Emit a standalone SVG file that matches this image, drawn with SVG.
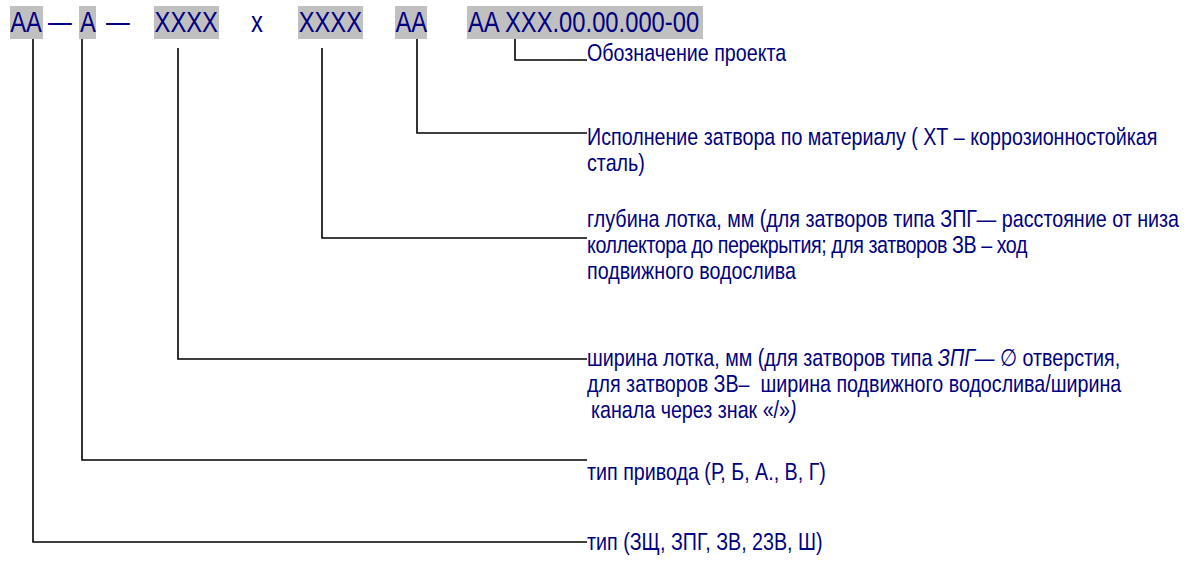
<svg xmlns="http://www.w3.org/2000/svg" width="1195" height="567" viewBox="0 0 1195 567">
<style>
.bg{fill:#c0c0c0}
.code{font-family:"Liberation Sans",Arial,sans-serif;font-size:29px;fill:#000080}
.desc{font-family:"Liberation Sans",Arial,"DejaVu Sans",sans-serif;font-size:24px;fill:#000080}
.it{font-style:italic}
.conn{fill:none;stroke:#000;stroke-width:1.6}
</style>
<rect width="1195" height="567" fill="#fff"/>
<g id="code-type">
<rect class="bg" x="10" y="6" width="33" height="33"/>
<text class="code" transform="scale(0.82 1)" x="12.4" y="32">AA</text>
</g>
<g id="sep1"><text class="code" transform="scale(0.82 1)" x="58.5" y="32">—</text></g>
<g id="code-drive">
<rect class="bg" x="79" y="6" width="17" height="33"/>
<text class="code" transform="scale(0.82 1)" x="97.6" y="32">A</text>
</g>
<g id="sep2"><text class="code" transform="scale(0.82 1)" x="129.3" y="32">—</text></g>
<g id="code-width">
<rect class="bg" x="154" y="6" width="65" height="33"/>
<text class="code" transform="scale(0.82 1)" x="188.5" y="32">XXXX</text>
</g>
<g id="sep3"><text class="code" transform="scale(0.82 1)" x="306.1" y="32">x</text></g>
<g id="code-depth">
<rect class="bg" x="298" y="6" width="65" height="33"/>
<text class="code" transform="scale(0.82 1)" x="364.2" y="32">XXXX</text>
</g>
<g id="code-material">
<rect class="bg" x="395" y="6" width="32" height="33"/>
<text class="code" transform="scale(0.82 1)" x="482.2" y="32">AA</text>
</g>
<g id="code-project">
<rect class="bg" x="467" y="6" width="236" height="33"/>
<text class="code" transform="scale(0.82 1)" x="570.7" y="32">AA XXX.00.00.000-00</text>
</g>
<g id="connectors">
<polyline class="conn" points="515,39 515,60 587,60"/>
<polyline class="conn" points="417,39 417,133 587,133"/>
<polyline class="conn" points="322,48 322,238 587,238"/>
<polyline class="conn" points="178,48 178,359 587,359"/>
<polyline class="conn" points="82,39 82,460 587,460"/>
<polyline class="conn" points="33,39 33,542 587,542"/>
</g>
<g id="desc-project">
<text class="desc" transform="scale(0.82 1)" x="715.9" y="61">Обозначение проекта</text>
</g>
<g id="desc-material">
<text class="desc" transform="scale(0.82 1)" x="715.9" y="145">Исполнение затвора по материалу ( ХТ – коррозионностойкая</text>
<text class="desc" transform="scale(0.82 1)" x="715.9" y="171">сталь)</text>
</g>
<g id="desc-depth">
<text class="desc" transform="scale(0.82 1)" x="715.9" y="227" textLength="722" lengthAdjust="spacingAndGlyphs">глубина лотка, мм (для затворов типа ЗПГ— расстояние от низа</text>
<text class="desc" transform="scale(0.82 1)" x="715.9" y="253" textLength="537" lengthAdjust="spacing">коллектора до перекрытия; для затворов ЗВ – ход</text>
<text class="desc" transform="scale(0.82 1)" x="715.9" y="279">подвижного водослива</text>
</g>
<g id="desc-width">
<text class="desc" transform="scale(0.82 1)" x="715.9" y="366">ширина лотка, мм (для затворов типа <tspan class="it">ЗПГ—</tspan> ∅ отверстия,</text>
<text class="desc" transform="scale(0.82 1)" x="715.9" y="392" xml:space="preserve">для затворов ЗВ–  ширина подвижного водослива/ширина</text>
<text class="desc" transform="scale(0.82 1)" x="720.7" y="418">канала через знак «/»<tspan class="it">)</tspan></text>
</g>
<g id="desc-drive">
<text class="desc" transform="scale(0.82 1)" x="715.9" y="480">тип привода (Р, Б, А., В, Г)</text>
</g>
<g id="desc-type">
<text class="desc" transform="scale(0.82 1)" x="715.9" y="550">тип (ЗЩ, ЗПГ, ЗВ, 23В, Ш)</text>
</g>
</svg>
